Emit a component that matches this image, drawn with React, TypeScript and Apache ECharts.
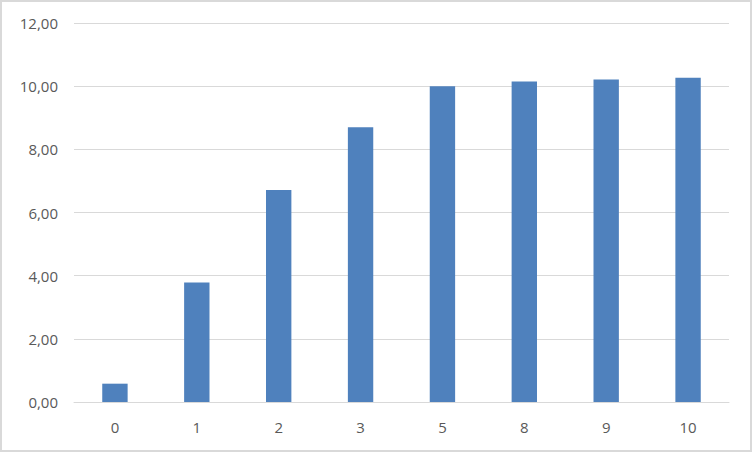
import React, { useEffect, useRef } from "react";
import * as echarts from "echarts";

const categories = ["0", "1", "2", "3", "5", "8", "9", "10"];
const values = [0.58, 3.78, 6.71, 8.7, 10.0, 10.15, 10.21, 10.27];
const yMin = 0;
const yMax = 12;
const yInterval = 2;

export default function App() {
  const ref = useRef<HTMLDivElement>(null);
  useEffect(() => {
    if (!ref.current) return;
    const chart = echarts.init(ref.current, undefined, { renderer: "svg" });
    chart.setOption({
      animation: false,
      backgroundColor: "#ffffff",
      grid: { left: 72, right: 21, top: 21, bottom: 48, containLabel: false },
      xAxis: {
        type: "category",
        data: categories,
        axisLine: { show: true, lineStyle: { color: "#d9d9d9", width: 1 } },
        axisTick: { show: false },
        axisLabel: {
          color: "#595959",
          fontSize: 15,
          fontFamily: "Open Sans, Noto Sans, sans-serif",
          margin: 17,
        },
      },
      yAxis: {
        type: "value",
        min: yMin,
        max: yMax,
        interval: yInterval,
        axisLine: { show: false },
        axisTick: { show: false },
        splitLine: { lineStyle: { color: "#d9d9d9", width: 1 } },
        axisLabel: {
          color: "#595959",
          fontSize: 15,
          fontFamily: "Open Sans, Noto Sans, sans-serif",
          margin: 16,
          formatter: (v: number) => v.toFixed(2).replace(".", ","),
        },
      },
      series: [
        {
          type: "bar",
          data: values,
          barWidth: "31%",
          itemStyle: { color: "#4f81bd" },
        },
      ],
    });
    return () => chart.dispose();
  }, []);
  return (
    <div
      ref={ref}
      style={{
        position: "absolute",
        left: 0,
        top: 0,
        width: 752,
        height: 452,
        boxSizing: "border-box",
        border: "2px solid #d9d9d9",
        background: "#fff",
      }}
    />
  );
}
